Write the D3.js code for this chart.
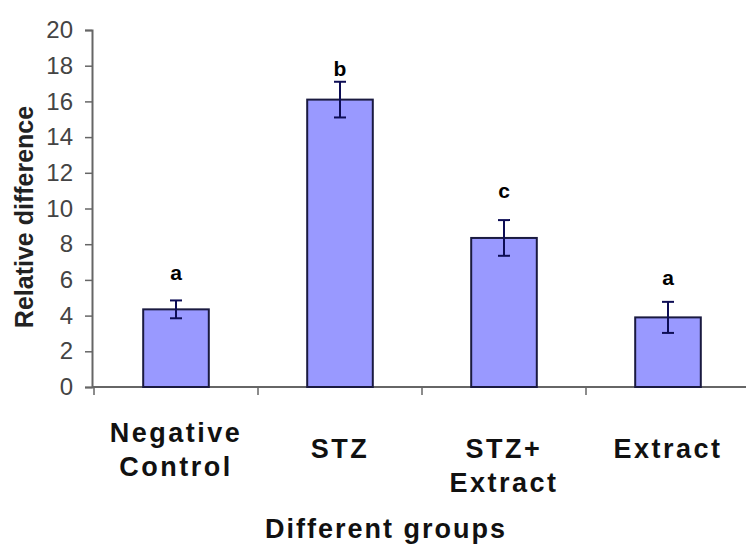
<!DOCTYPE html>
<html lang="en">
<head>
<meta charset="UTF-8">
<title>Relative difference</title>
<script src="https://cdnjs.cloudflare.com/ajax/libs/d3/7.8.5/d3.min.js"></script>
<style>
  body { margin: 0; background: #fff; }
  svg { display: block; }
</style>
</head>
<body>
<svg id="chart" width="746" height="544"></svg>
<script>
// data
var groups = ["Negative Control", "STZ", "STZ+ Extract", "Extract"];
var groupLines = [["Negative", "Control"], ["STZ"], ["STZ+", "Extract"], ["Extract"]];
var means = [4.35, 16.1, 8.35, 3.9];
var errors = [0.5, 1.0, 1.0, 0.87];
var letters = ["a", "b", "c", "a"];
var letterAt = [6.0, 17.4, 10.6, 5.7];
var yTicks = [0, 2, 4, 6, 8, 10, 12, 14, 16, 18, 20];

var svg = d3.select("#chart");

var x = d3.scaleBand().domain(groups).range([94, 750]).padding(0);
var y = d3.scaleLinear().domain([0, 20]).range([387, 30]);
var bw = x.bandwidth();

// y axis
var yAxis = d3.axisLeft(y).tickValues(yTicks).tickSize(7).tickPadding(12);
var gy = svg.append("g").attr("transform", "translate(92,0)").call(yAxis);
gy.select(".domain").attr("stroke", "#666").attr("stroke-width", 2);
gy.selectAll(".tick line").attr("stroke", "#666").attr("stroke-width", 1.5);
gy.selectAll(".tick text")
  .attr("fill", "#444")
  .style("font-family", "'Liberation Sans Narrow', 'Liberation Sans', Arial, sans-serif")
  .style("font-size", "24px");

// x axis line + ticks at band edges
svg.append("line")
  .attr("x1", 92).attr("x2", 746)
  .attr("y1", y(0)).attr("y2", y(0))
  .attr("stroke", "#666").attr("stroke-width", 2);

var edges = groups.map(function(g) { return x(g); });
svg.selectAll(".xtick").data(edges).enter().append("line")
  .attr("x1", function(d) { return d; }).attr("x2", function(d) { return d; })
  .attr("y1", y(0)).attr("y2", y(0) + 8)
  .attr("stroke", "#666").attr("stroke-width", 1.5);

// bars
svg.selectAll(".bar").data(means).enter().append("rect")
  .attr("x", function(d, i) { return x(groups[i]) + bw * 0.3; })
  .attr("width", bw * 0.4)
  .attr("y", function(d) { return y(d); })
  .attr("height", function(d) { return y(0) - y(d); })
  .attr("fill", "#9999ff")
  .attr("stroke", "#1a1a40")
  .attr("stroke-width", 2);

// error bars
var eb = svg.selectAll(".err").data(means).enter().append("g")
  .attr("stroke", "#0d0d55").attr("stroke-width", 2);
eb.append("line")
  .attr("x1", function(d, i) { return x(groups[i]) + bw / 2; })
  .attr("x2", function(d, i) { return x(groups[i]) + bw / 2; })
  .attr("y1", function(d, i) { return y(d + errors[i]); })
  .attr("y2", function(d, i) { return y(d - errors[i]); });
eb.append("line")
  .attr("x1", function(d, i) { return x(groups[i]) + bw / 2 - 6; })
  .attr("x2", function(d, i) { return x(groups[i]) + bw / 2 + 6; })
  .attr("y1", function(d, i) { return y(d + errors[i]); })
  .attr("y2", function(d, i) { return y(d + errors[i]); });
eb.append("line")
  .attr("x1", function(d, i) { return x(groups[i]) + bw / 2 - 6; })
  .attr("x2", function(d, i) { return x(groups[i]) + bw / 2 + 6; })
  .attr("y1", function(d, i) { return y(d - errors[i]); })
  .attr("y2", function(d, i) { return y(d - errors[i]); });

// significance letters
svg.selectAll(".letter").data(letters).enter().append("text")
  .attr("x", function(d, i) { return x(groups[i]) + bw / 2; })
  .attr("y", function(d, i) { return y(letterAt[i]); })
  .attr("text-anchor", "middle")
  .style("font-family", "'Liberation Sans', Arial, sans-serif")
  .style("font-weight", "bold")
  .style("font-size", "21px")
  .text(function(d) { return d; });

// category labels
var cat = svg.selectAll(".cat").data(groupLines).enter().append("text")
  .attr("text-anchor", "middle")
  .style("font-family", "'Liberation Sans', Arial, sans-serif")
  .style("font-weight", "bold")
  .style("font-size", "27px")
  .style("letter-spacing", "2.5px")
  .attr("fill", "#111");
cat.each(function(lines, i) {
  var cx = x(groups[i]) + bw / 2;
  var y0 = (i === 0) ? 442 : 458;
  d3.select(this).selectAll("tspan").data(lines).enter().append("tspan")
    .attr("x", cx)
    .attr("y", function(d, j) { return y0 + j * 34; })
    .text(function(d) { return d; });
});

// axis titles
svg.append("text")
  .attr("x", 386).attr("y", 538)
  .attr("text-anchor", "middle")
  .style("font-family", "'Liberation Sans', Arial, sans-serif")
  .style("font-weight", "bold")
  .style("font-size", "27px")
  .style("letter-spacing", "2px")
  .attr("fill", "#111")
  .text("Different groups");

svg.append("text")
  .attr("transform", "translate(33,217) rotate(-90)")
  .attr("text-anchor", "middle")
  .style("font-family", "'Liberation Sans', Arial, sans-serif")
  .style("font-weight", "bold")
  .style("font-size", "25px")
  .attr("fill", "#222")
  .text("Relative difference");
</script>
</body>
</html>
